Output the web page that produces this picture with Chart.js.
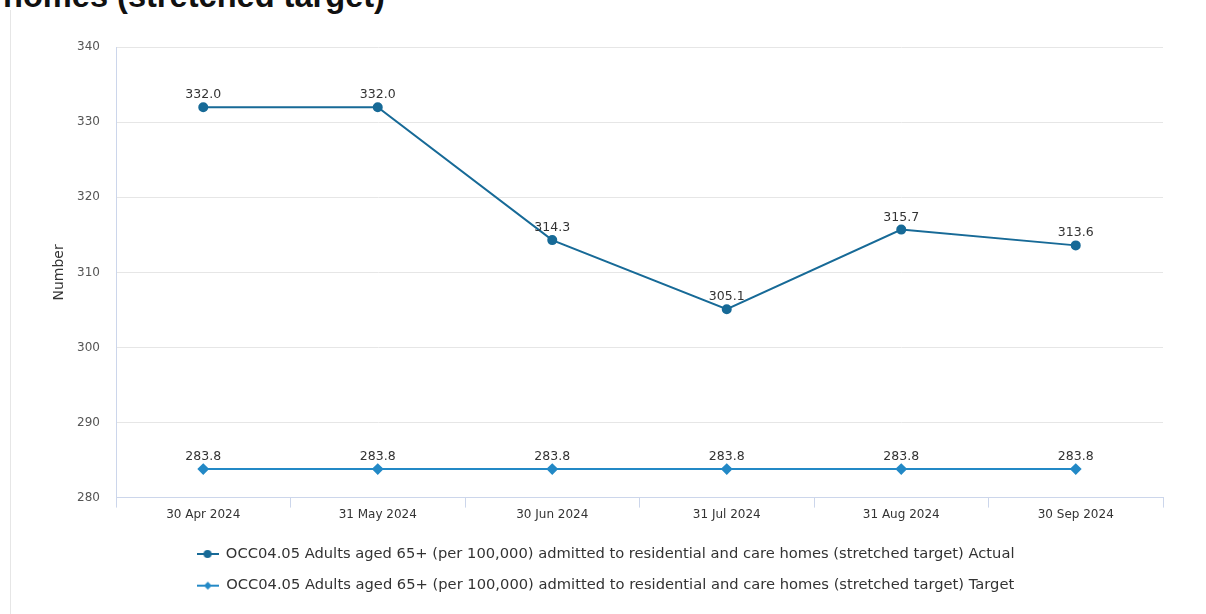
<!DOCTYPE html>
<html lang="en">
<head>
  <meta charset="UTF-8">
  <title>Adults aged 65+ admitted to residential and care homes</title>
  <script src="https://cdn.jsdelivr.net/npm/chart.js"></script>
  <style>
    body {
      margin: 0;
      background: #fff;
      width: 1206px;
      height: 614px;
      overflow: hidden;
      position: relative;
      font-family: 'DejaVu Sans', Verdana, sans-serif;
    }
    .page-title {
      position: absolute;
      left: 3px;
      top: -20px;
      margin: 0;
      font: bold 32.6px/32px 'Liberation Sans', Arial, sans-serif;
      color: #111;
      white-space: nowrap;
    }
    .panel {
      position: absolute;
      left: 10px;
      top: 10px;
      width: 1196px;
      height: 604px;
      border-left: 1px solid #e6e6e6;
    }
    .chart-box {
      position: absolute;
      left: 0;
      top: 24px;
      width: 1206px;
      height: 590px;
    }
  </style>
</head>
<body>
  <h2 class="page-title">homes (stretched target)</h2>
  <div class="panel"></div>
  <div class="chart-box">
    <canvas id="trendChart"></canvas>
  </div>

  <script>
    // Data
    const periods = ['30 Apr 2024', '31 May 2024', '30 Jun 2024', '31 Jul 2024', '31 Aug 2024', '30 Sep 2024'];
    const actualValues = [332.0, 332.0, 314.3, 305.1, 315.7, 313.6];
    const targetValues = [283.8, 283.8, 283.8, 283.8, 283.8, 283.8];
    const yTicks = [280, 290, 300, 310, 320, 330, 340];

    const measureName = 'OCC04.05 Adults aged 65+ (per 100,000) admitted to residential and care homes (stretched target)';
    const actualColour = '#176a97';
    const targetColour = '#2389c6';

    // Small legend symbol: a short line with the series marker in the middle
    function legendSymbol(colour, shape) {
      const c = document.createElement('canvas');
      c.width = 22;
      c.height = 12;
      const g = c.getContext('2d');
      g.strokeStyle = colour;
      g.fillStyle = colour;
      g.lineWidth = 2;
      g.beginPath();
      g.moveTo(0, 6);
      g.lineTo(22, 6);
      g.stroke();
      g.beginPath();
      if (shape === 'circle') {
        g.arc(11, 6, 4, 0, Math.PI * 2);
      } else {
        g.moveTo(11, 2);
        g.lineTo(15, 6);
        g.lineTo(11, 10);
        g.lineTo(7, 6);
        g.closePath();
      }
      g.fill();
      return c;
    }

    // Value labels above each point
    const valueLabels = {
      id: 'valueLabels',
      afterDatasetsDraw(chart) {
        const ctx = chart.ctx;
        ctx.save();
        ctx.font = '12.5px "DejaVu Sans", Verdana, sans-serif';
        ctx.fillStyle = '#333';
        ctx.textAlign = 'center';
        ctx.textBaseline = 'bottom';
        chart.data.datasets.forEach((ds, i) => {
          chart.getDatasetMeta(i).data.forEach((pt, j) => {
            ctx.fillText(ds.data[j].toFixed(1), pt.x, pt.y - 6);
          });
        });
        ctx.restore();
      }
    };

    const symbols = [legendSymbol(actualColour, 'circle'), legendSymbol(targetColour, 'diamond')];

    new Chart(document.getElementById('trendChart'), {
      type: 'line',
      data: {
        labels: periods,
        datasets: [
          {
            label: measureName + ' Actual',
            data: actualValues,
            borderColor: actualColour,
            backgroundColor: actualColour,
            borderWidth: 2,
            pointStyle: 'circle',
            pointRadius: 4,
            pointHoverRadius: 4,
            tension: 0
          },
          {
            label: measureName + ' Target',
            data: targetValues,
            borderColor: targetColour,
            backgroundColor: targetColour,
            borderWidth: 2,
            pointStyle: 'rectRot',
            pointRadius: 4.5,
            pointHoverRadius: 4.5,
            tension: 0
          }
        ]
      },
      options: {
        responsive: true,
        maintainAspectRatio: false,
        animation: false,
        layout: { padding: { left: 48, right: 43, top: 11, bottom: 11 } },
        scales: {
          x: {
            offset: true,
            grid: {
              offset: true,
              drawOnChartArea: false,
              drawTicks: true,
              tickLength: 10,
              color: '#ccd6eb'
            },
            border: { color: '#ccd6eb' },
            ticks: {
              color: '#333',
              font: { family: 'DejaVu Sans', size: 12 },
              padding: 0,
              maxRotation: 0
            },
            afterFit(scale) { scale.height = 32; }
          },
          y: {
            min: 280,
            max: 340,
            afterBuildTicks(scale) {
              scale.ticks = yTicks.map(v => ({ value: v }));
            },
            grid: {
              color: '#e6e6e6',
              drawTicks: false
            },
            border: { color: '#ccd6eb' },
            ticks: {
              color: '#555',
              font: { family: 'DejaVu Sans', size: 12 },
              padding: 16
            },
            title: {
              display: true,
              text: 'Number',
              color: '#333',
              font: { family: 'DejaVu Sans', size: 14 },
              padding: { top: 3, bottom: 3 }
            },
            afterFit(scale) { scale.width = 68; }
          }
        },
        plugins: {
          legend: {
            position: 'bottom',
            labels: {
              usePointStyle: true,
              pointStyleWidth: 22,
              color: '#333',
              font: { family: 'DejaVu Sans', size: 14.7 },
              padding: 17,
              generateLabels(chart) {
                return chart.data.datasets.map((ds, i) => ({
                  text: ds.label,
                  fillStyle: ds.borderColor,
                  strokeStyle: ds.borderColor,
                  fontColor: '#333',
                  pointStyle: symbols[i],
                  hidden: false,
                  datasetIndex: i
                }));
              }
            }
          },
          tooltip: { enabled: false }
        }
      },
      plugins: [valueLabels]
    });
  </script>
</body>
</html>
